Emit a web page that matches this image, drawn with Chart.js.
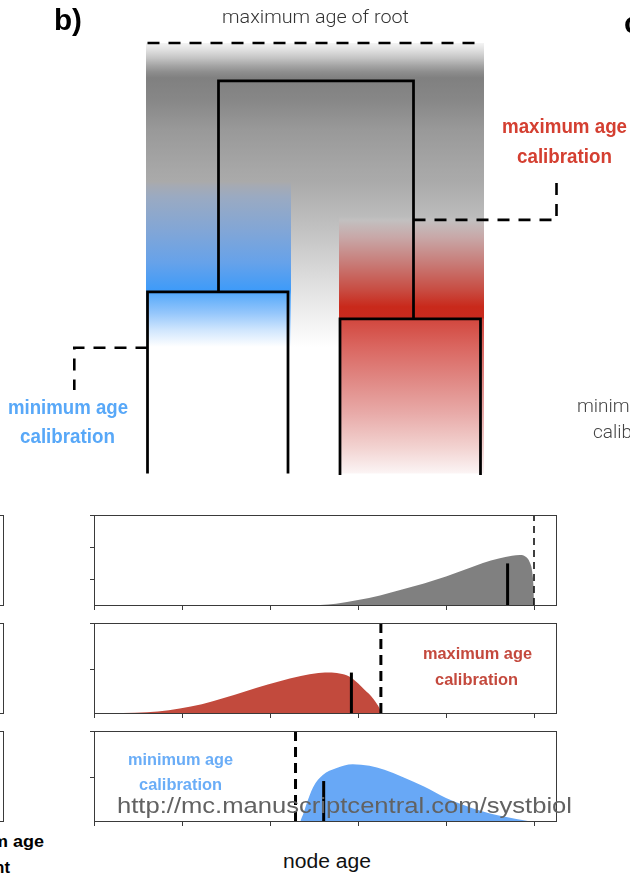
<!DOCTYPE html>
<html>
<head>
<meta charset="utf-8">
<script src="https://cdn.jsdelivr.net/npm/chart.js@4.4.1/dist/chart.umd.min.js"></script>
<style>
  html, body { margin: 0; padding: 0; background: #fff; }
  body { width: 630px; height: 875px; position: relative; overflow: hidden; }
  canvas { position: absolute; }
  .lbl { position: absolute; white-space: nowrap; line-height: 1; transform-origin: 0 0; }
  .box { position: absolute; border: 1px solid #3a3a3a; box-sizing: border-box; }
</style>
</head>
<body>
<canvas id="tree" width="630" height="482" style="left:0;top:0;width:630px;height:482px"></canvas>
<canvas id="pRoot"></canvas>
<canvas id="pMax"></canvas>
<canvas id="pMin"></canvas>
<div class="box" style="left:-20px;top:515px;width:23.5px;height:91px"></div>
<div class="box" style="left:-20px;top:623px;width:23.5px;height:91px"></div>
<div class="box" style="left:-20px;top:731px;width:23.5px;height:91px"></div>

<script>
// ---- tree: horizontal layout slots of the tips, ages of the nodes (tips at age 0) ----
const tipX = [147.5, 288, 340, 480.5];
const cladeX = [218.5, 413.5];
const cladeAge = [4.22, 3.59];
const rootAge = 9.12;
const rootMaxAge = 10;
const maxCalAge = 5.89;
const minCalAge = 2.92;
const calloutX = [74.3, 556.5];
const calloutEndAge = [1.94, 6.82];
const columnX = [146, 291, 339, 484];

// ---- node-age densities (x: node age, y: density) ----
const ageTicks = [0, 1, 2, 3, 4, 5];

const rootDensAge = [2.57, 2.75, 3.0, 3.25, 3.5, 3.75, 4.0, 4.25, 4.42, 4.6, 4.75, 4.84, 4.91, 4.95, 4.98, 4.995, 5.0];
const rootDens    = [0, 0.04, 0.154, 0.292, 0.477, 0.662, 0.877, 1.123, 1.292, 1.431, 1.517, 1.538, 1.477, 1.323, 1.015, 0.523, 0];
const rootTrueAge = 4.70, rootTrueDens = 1.28;
const rootLimit = 5.0;
const rootTicks = [0.77, 1.77, 2.77];

const maxDensAge = [0.33, 0.6, 0.85, 1.1, 1.35, 1.6, 1.85, 2.1, 2.35, 2.55, 2.7, 2.82, 2.92, 3.0, 3.08, 3.15, 3.21, 3.245, 3.26];
const maxDens    = [0, 0.018, 0.064, 0.148, 0.273, 0.42, 0.58, 0.727, 0.852, 0.92, 0.932, 0.898, 0.818, 0.682, 0.523, 0.386, 0.227, 0.102, 0];
const maxTrueAge = 2.925, maxTrueDens = 0.93;
const maxLimit = 3.26;
const maxTicks = [1, 2.07];

const minDensAge = [2.345, 2.38, 2.41, 2.49, 2.6, 2.75, 2.94, 3.13, 3.3, 3.5, 3.75, 4.0, 4.2, 4.4, 4.6, 4.8, 4.93];
const minDens    = [0, 0.17, 0.36, 0.77, 1.045, 1.2, 1.295, 1.26, 1.17, 1.01, 0.784, 0.523, 0.364, 0.227, 0.125, 0.045, 0];
const minTrueAge = 2.61, minTrueDens = 0.91;
const minLimit = 2.29;
const minTicks = [1, 2.05];

// ---------------------------------------------------------------------------
const pts = (xs, ys) => xs.map((x, i) => ({ x, y: ys[i] }));

function stroke(data, extra) {
  return Object.assign({
    data, borderColor: '#000', borderWidth: 2.75, pointRadius: 0, fill: false,
    tension: 0, borderJoinStyle: 'miter', borderCapStyle: 'butt'
  }, extra || {});
}

// shared shading at the top of the age band
const topShade = [
  [10.0, '#f4f4f4'], [9.84, '#e0e0e0'], [9.65, '#c4c4c4'], [9.47, '#a4a4a4'],
  [9.33, '#8e8e8e'], [9.19, '#808080'], [8.68, '#878787'], [7.98, '#999999'],
  [7.05, '#a7a7a7'], [6.78, '#aaaaaa']
];
const columnShades = [
  topShade.concat([[6.7, '#a6aab2'], [6.42, '#9aaac2'], [5.65, '#82a6d6'], [4.89, '#66a2ea'],
    [4.26, '#3e9bf9'], [4.2, '#4aa2fa'], [4.15, '#5cacfa'], [3.73, '#94c6fb'], [3.33, '#d0e6fd'],
    [2.94, '#ffffff'], [0, '#ffffff']]),
  topShade.concat([[5.65, '#c2c2c2'], [4.89, '#d4d4d4'], [4.1, '#e6e6e6'], [3.33, '#f6f6f6'],
    [2.94, '#ffffff'], [0, '#ffffff']]),
  topShade.concat([[5.96, '#bcbcbc'], [5.89, '#c2c0c0'], [5.49, '#c8a8a8'], [4.89, '#c87c78'],
    [4.26, '#c84c42'], [3.87, '#c9291b'], [3.62, '#c82a1e'], [3.57, '#d2483f'], [2.94, '#da6660'],
    [2.17, '#e08884'], [1.4, '#e8aaa8'], [0.61, '#f2d2d0'], [0.08, '#faf0f0'], [0, '#fcf5f5']])
];

function shadeFor(stops) {
  return function (context) {
    const chart = context.chart;
    const { ctx, chartArea, scales } = chart;
    if (!chartArea) return '#aaaaaa';
    const y0 = scales.y.getPixelForValue(stops[0][0]);
    const y1 = scales.y.getPixelForValue(stops[stops.length - 1][0]);
    const g = ctx.createLinearGradient(0, y0, 0, y1);
    stops.forEach(([age, c]) => {
      const off = (scales.y.getPixelForValue(age) - y0) / (y1 - y0);
      g.addColorStop(Math.min(1, Math.max(0, off)), c);
    });
    return g;
  };
}

const treeSets = [
  // clades
  stroke(pts([tipX[0], tipX[0], tipX[1], tipX[1]], [0, cladeAge[0], cladeAge[0], 0])),
  stroke(pts([tipX[2], tipX[2], tipX[3], tipX[3]], [-0.04, cladeAge[1], cladeAge[1], -0.04])),
  // root
  stroke(pts([cladeX[0], cladeX[0], cladeX[1], cladeX[1]], [cladeAge[0], rootAge, rootAge, cladeAge[1]])),
  // calibration limits
  stroke(pts([tipX[0], tipX[3]], [rootMaxAge, rootMaxAge]), { borderWidth: 2.6, borderDash: [12, 9] }),
  stroke(pts([cladeX[1], calloutX[1], calloutX[1]], [maxCalAge, maxCalAge, calloutEndAge[1]]), { borderWidth: 2.6, borderDash: [12, 9] }),
  stroke(pts([tipX[0], calloutX[0], calloutX[0]], [minCalAge, minCalAge, calloutEndAge[0]]), { borderWidth: 2.6, borderDash: [12, 9] })
];
// shaded age band, one column per lineage
for (let c = 0; c < 3; c++) {
  treeSets.push({
    data: pts([columnX[c], columnX[c + 1]], [rootMaxAge, rootMaxAge]),
    borderWidth: 0, borderColor: 'rgba(0,0,0,0)', pointRadius: 0, tension: 0,
    fill: '+1', backgroundColor: shadeFor(columnShades[c])
  });
  treeSets.push({
    data: pts([columnX[c], columnX[c + 1]], [0, 0]),
    borderWidth: 0, borderColor: 'rgba(0,0,0,0)', pointRadius: 0, tension: 0, fill: false
  });
}

new Chart(document.getElementById('tree'), {
  type: 'line',
  data: { datasets: treeSets },
  options: {
    responsive: false, animation: false, events: [],
    layout: { padding: 0 },
    plugins: { legend: { display: false }, tooltip: { enabled: false } },
    scales: {
      x: { type: 'linear', min: 0, max: 630, display: false },
      y: { type: 'linear', min: -0.2, max: 11, display: false }
    }
  }
});

// ---- density panels ----
const frame = {
  id: 'frame',
  afterDraw(chart) {
    const { ctx, chartArea: a } = chart;
    ctx.save();
    ctx.strokeStyle = '#3a3a3a';
    ctx.lineWidth = 1;
    ctx.strokeRect(Math.round(a.left) + 0.5, Math.round(a.top) + 0.5,
      Math.round(a.right - a.left), Math.round(a.bottom - a.top));
    ctx.restore();
  }
};

function panel(id, top, ages, dens, color, trueAge, trueDens, limit, yTicks, dash, dashW) {
  const canvas = document.getElementById(id);
  canvas.width = 478; canvas.height = 104;
  canvas.style.left = '84px'; canvas.style.top = (top - 6) + 'px';
  const yMax = yTicks[yTicks.length - 1];
  new Chart(canvas, {
    type: 'line',
    data: {
      datasets: [
        stroke(pts([trueAge, trueAge], [0, trueDens]), { borderWidth: 3 }),
        stroke(pts([limit, limit], [0, yMax]), { borderWidth: dashW, borderDash: dash }),
        {
          data: pts(ages, dens), fill: 'start', backgroundColor: color,
          borderWidth: 0, borderColor: 'rgba(0,0,0,0)', pointRadius: 0,
          cubicInterpolationMode: 'monotone'
        }
      ]
    },
    options: {
      responsive: false, animation: false, events: [],
      layout: { padding: { left: 4, top: 6, right: 6, bottom: 2 } },
      plugins: { legend: { display: false }, tooltip: { enabled: false } },
      scales: {
        x: {
          type: 'linear', min: 0, max: 5.25,
          afterBuildTicks: s => { s.ticks = ageTicks.map(v => ({ value: v })); },
          afterFit: s => { s.height = 6; },
          ticks: { display: false },
          grid: { drawOnChartArea: false, drawTicks: true, tickLength: 5, color: '#3a3a3a', lineWidth: 1 },
          border: { display: false }
        },
        y: {
          type: 'linear', min: 0, max: yMax,
          afterBuildTicks: s => { s.ticks = yTicks.map(v => ({ value: v })); },
          afterFit: s => { s.width = 6; },
          ticks: { display: false },
          grid: { drawOnChartArea: false, drawTicks: true, tickLength: 4, color: '#3a3a3a', lineWidth: 1 },
          border: { display: false }
        }
      }
    },
    plugins: [frame]
  });
}

panel('pRoot', 515, rootDensAge, rootDens, '#808080', rootTrueAge, rootTrueDens, rootLimit, rootTicks, [7, 5], 1.5);
panel('pMax', 623, maxDensAge, maxDens, '#c24a3d', maxTrueAge, maxTrueDens, maxLimit, maxTicks, [10, 6], 3);
panel('pMin', 731, minDensAge, minDens, '#68a8f6', minTrueAge, minTrueDens, minLimit, minTicks, [10, 6], 3);

// ---- text ----
const SANS = '"Liberation Sans", Arial, Helvetica, sans-serif';
const COND = '"Liberation Sans Narrow", "Liberation Sans", Arial, sans-serif';
const LIGHT = 'Roboto, "Open Sans", Lato, sans-serif';

const labels = [
  { t: 'b)', x: 54, base: 30, size: 30, w: 28, weight: 700, color: '#000', fam: SANS },
  { t: 'c)', x: 624, base: 33, size: 30, weight: 700, color: '#000', fam: SANS },
  { t: 'maximum age of root', x: 222, base: 23, size: 18, w: 187, weight: 300, color: '#333', fam: LIGHT },
  { t: 'maximum age', x: 502, base: 133, size: 20, w: 125, weight: 700, color: '#d43f31', fam: COND },
  { t: 'calibration', x: 517, base: 163, size: 20, w: 95, weight: 700, color: '#d43f31', fam: COND },
  { t: 'minimum age', x: 8, base: 413.5, size: 20, w: 120, weight: 700, color: '#58a8f8', fam: COND },
  { t: 'calibration', x: 20, base: 443, size: 20, w: 95, weight: 700, color: '#58a8f8', fam: COND },
  { t: 'minimum age', x: 577, base: 411.5, size: 19, weight: 300, color: '#444', fam: LIGHT },
  { t: 'calibration', x: 593, base: 438, size: 19, weight: 300, color: '#444', fam: LIGHT },
  { t: 'maximum age', x: 423, base: 659, size: 17, w: 109, weight: 700, color: '#c4493d', fam: COND },
  { t: 'calibration', x: 435, base: 685, size: 17, w: 83, weight: 700, color: '#c4493d', fam: COND },
  { t: 'minimum age', x: 128, base: 764.5, size: 17, w: 105, weight: 700, color: '#6aadf7', fam: COND },
  { t: 'calibration', x: 139, base: 790, size: 17, w: 83, weight: 700, color: '#6aadf7', fam: COND },
  { t: 'node age', x: 283, base: 868, size: 20, w: 88, weight: 400, color: '#111', fam: SANS },
  { t: 'minimum age', x: 43.5, align: 'right', base: 847, size: 17, w: 116, weight: 700, color: '#000', fam: COND },
  { t: 'constraint', x: 10, align: 'right', base: 873, size: 17, w: 80, weight: 700, color: '#000', fam: COND },
  { t: 'http://mc.manuscriptcentral.com/systbiol', x: 116.7, base: 813, size: 22, w: 455, weight: 400, color: '#626262', fam: SANS }
];

labels.forEach(L => {
  const el = document.createElement('div');
  el.className = 'lbl';
  el.style.font = `${L.weight} ${L.size}px ${L.fam}`;
  el.style.color = L.color;
  el.textContent = L.t;
  const probe = document.createElement('span');
  probe.style.cssText = 'display:inline-block;width:0;height:0;vertical-align:baseline';
  el.appendChild(probe);
  document.body.appendChild(el);
  const baseOff = probe.offsetTop;
  const w = el.getBoundingClientRect().width;
  const sx = L.w ? L.w / w : 1;
  const left = L.align === 'right' ? L.x - (L.w || w) : L.x;
  el.style.left = left + 'px';
  el.style.top = (L.base - baseOff) + 'px';
  el.style.transform = `scaleX(${sx})`;
});
</script>
</body>
</html>
